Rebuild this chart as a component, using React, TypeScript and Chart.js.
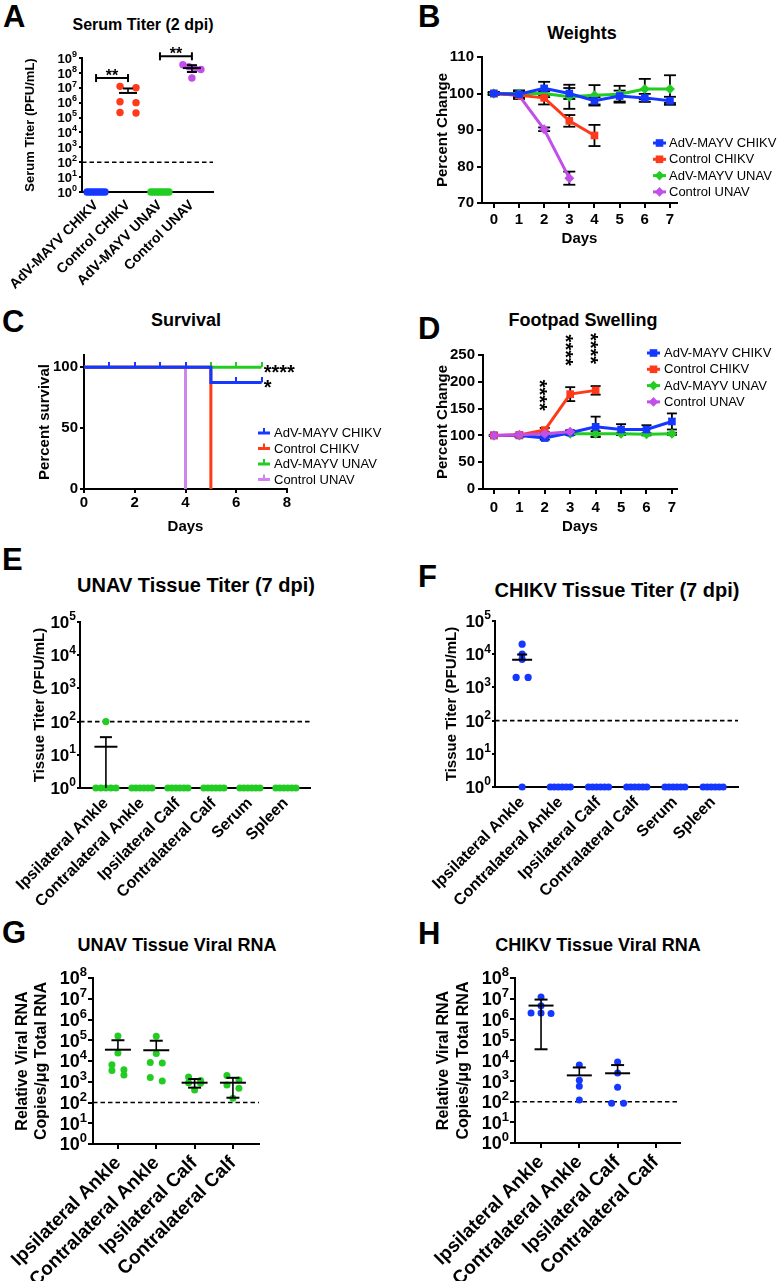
import React, { useEffect, useRef } from 'react';
import { Chart, registerables } from 'chart.js';

Chart.register(...registerables);

const FONT = "'Liberation Sans', Arial, Helvetica, sans-serif";
Chart.defaults.font.family = FONT;
Chart.defaults.color = '#000';

const BLUE = '#1438ff';
const RED = '#ff3a1a';
const GREEN = '#22cc22';
const PURPLE = '#c14fe8';
const LILAC = '#cf85ef';

// ================= DATA =================
const LOD = 100;

// A – Serum titer (2 dpi)
const aCats = ['AdV-MAYV CHIKV', 'Control CHIKV', 'AdV-MAYV UNAV', 'Control UNAV'];
const aExp = [0, 1, 2, 3, 4, 5, 6, 7, 8, 9];
const aAdvChikv = [1, 1, 1, 1, 1, 1, 1, 1];
const aCtrlChikv = [1.25e7, 1.0e7, 1.15e6, 1.0e6, 2.2e5, 2.0e5];
const aAdvUnav = [1, 1, 1, 1, 1, 1, 1, 1];
const aCtrlUnav = [3.5e8, 2.6e8, 1.9e8, 1.7e8, 4.5e7];
const aMean = [null, 4.5e6, null, 2.1e8];
const aHigh = [null, 9.0e6, null, 3.3e8];
const aLow = [null, null, null, 1.15e8];
const aSigFrom = [0, 2];
const aSigTo = [1, 3];
const aSigLevel = [4.5e7, 1.3e9];
const aSigText = ['**', '**'];

// B – Weights
const days = [0, 1, 2, 3, 4, 5, 6, 7];
const bYTicks = [70, 80, 90, 100, 110];
const wAdvChikv = [100, 99.8, 101.4, 100, 98, 99.3, 98.8, 98];
const wAdvChikvSem = [0.3, 1, 1.8, 1.5, 1, 1.5, 1.1, 1.1];
const wCtrlChikv = [100, 99.5, 98.8, 92.5, 88.5];
const wCtrlChikvSem = [0.3, 1, 1.8, 1.6, 2.9];
const wAdvUnav = [100, 100, 100, 99.1, 99.5, 99.8, 101.2, 101.2];
const wAdvUnavSem = [0.3, 0.8, 1, 3.3, 2.8, 2.3, 2.8, 3.8];
const wCtrlUnav = [100, 99.5, 90.2, 76.8];
const wCtrlUnavSem = [0.3, 0.5, 0.5, 1.8];

// C – Survival
const sDays = [0, 1, 2, 3, 4, 5, 6, 7];
const sAdvChikv = [100, 100, 100, 100, 100, 87.5, 87.5, 87.5];
const sCtrlChikv = [100, 100, 100, 100, 100, 0];
const sAdvUnav = [100, 100, 100, 100, 100, 100, 100, 100];
const sCtrlUnav = [100, 100, 100, 100, 0];
const cXTicks = [0, 2, 4, 6, 8];
const cYTicks = [0, 50, 100];
const cStarUnav = '****';
const cStarChikv = '*';

// D – Footpad swelling
const dYTicks = [0, 50, 100, 150, 200, 250];
const fAdvChikv = [100, 100, 95, 105, 116, 111, 111, 126];
const fAdvChikvSem = [1, 2, 3, 4, 19, 10, 8, 15];
const fCtrlChikv = [100, 101, 110, 177, 184];
const fCtrlChikvSem = [1, 2, 4, 13, 8];
const fAdvUnav = [100, 100, 103, 103, 103, 103, 102, 103];
const fAdvUnavSem = [1, 2, 2, 2, 5, 2, 2, 2];
const fCtrlUnav = [100, 101, 103, 107];
const fCtrlUnavSem = [1, 1, 2, 2];
const dStarDays = [2, 3, 4];
const dStarLevel = [175, 259, 262];
const dStarText = ['****', '****', '****'];

// E / F – Tissue titer (7 dpi)
const tCats = ['Ipsilateral Ankle', 'Contralateral Ankle', 'Ipsilateral Calf', 'Contralateral Calf', 'Serum', 'Spleen'];
const tExp = [0, 1, 2, 3, 4, 5];
const eIpsiAnkle = [100, 1, 1, 1, 1, 1];
const eContraAnkle = [1, 1, 1, 1, 1, 1];
const eIpsiCalf = [1, 1, 1, 1, 1, 1];
const eContraCalf = [1, 1, 1, 1, 1, 1];
const eSerum = [1, 1, 1, 1, 1, 1];
const eSpleen = [1, 1, 1, 1, 1, 1];
const eMean = [17.5, null, null, null, null, null];
const eHigh = [34, null, null, null, null, null];
const eLow = [1, null, null, null, null, null];
const fIpsiAnkle = [2.0e4, 1.0e4, 7.0e3, 2.0e3, 2.0e3, 1];
const fContraAnkle = [1, 1, 1, 1, 1, 1];
const fIpsiCalf = [1, 1, 1, 1, 1, 1];
const fContraCalf = [1, 1, 1, 1, 1, 1];
const fSerum = [1, 1, 1, 1, 1, 1];
const fSpleen = [1, 1, 1, 1, 1, 1];
const fMean = [6.8e3, null, null, null, null, null];
const fHigh = [9.8e3, null, null, null, null, null];
const fLow = [null, null, null, null, null, null];

// G / H – Tissue viral RNA
const rCats = ['Ipsilateral Ankle', 'Contralateral Ankle', 'Ipsilateral Calf', 'Contralateral Calf'];
const rExp = [0, 1, 2, 3, 4, 5, 6, 7, 8];
const gIpsiAnkle = [1.6e5, 2.4e4, 6.6e3, 3.8e3, 3.5e3, 2.1e3];
const gContraAnkle = [1.55e5, 2.3e4, 8.5e3, 8.0e3, 1.6e3, 1.1e3];
const gIpsiCalf = [1.7e3, 1.15e3, 900, 850, 400];
const gContraCalf = [2.0e3, 1.2e3, 700, 480, 160];
const gMean = [3.5e4, 3.3e4, 900, 900];
const gHigh = [1.0e5, 9.5e4, 1.35e3, 1.55e3];
const gLow = [null, null, 520, 170];
const hIpsiAnkle = [1.2e7, 4.5e6, 2.0e6, 2.0e6, 1.9e6];
const hContraAnkle = [6.0e3, 1.1e3, 560, 120];
const hIpsiCalf = [8.5e3, 2.5e3, 500, 85, 85];
const hContraCalf: number[] = [];
const hMean = [4.6e6, 1.9e3, 2.4e3, null];
const hHigh = [9.0e6, 4.6e3, 6.0e3, null];
const hLow = [3.5e4, null, null, null];

// ================= HELPERS =================
type Rect = [number, number, number, number];
type Plot = [number, number, number, number];

function frame(cv: Rect, plot: Plot) {
  const [cl, ct, cw, ch] = cv;
  const [L, T, R, B] = plot;
  return { padding: { left: 0, top: T - ct, right: cl + cw - R, bottom: 0 }, yW: L - cl, xH: ct + ch - B };
}
const fitX = (h: number) => (s: any) => {
  s.height = h; s.paddingLeft = 0; s.paddingRight = 0; s.paddingTop = 0; s.paddingBottom = 0;
};
const fitY = (w: number) => (s: any) => {
  s.width = w; s.paddingLeft = 0; s.paddingRight = 0; s.paddingTop = 0; s.paddingBottom = 0;
};

function makeAxis(o: any) {
  return {
    type: o.type,
    min: o.min,
    max: o.max,
    afterBuildTicks: (s: any) => { s.ticks = o.ticks.map((v: number) => ({ value: v })); },
    afterFit: o.fit,
    ticks: {
      callback: o.fmt || ((v: any) => String(v)),
      font: { size: o.size, weight: 'bold' },
      color: '#000',
      padding: o.pad,
      autoSkip: false,
      minRotation: o.rotation || 0,
      maxRotation: o.rotation || 0,
    },
    grid: {
      display: true, drawOnChartArea: false, drawTicks: o.tl > 0, tickLength: o.tl,
      tickWidth: 2, tickColor: '#000', color: '#000', lineWidth: 2,
    },
    border: { display: true, color: '#000', width: 2 },
    title: o.title
      ? { display: true, text: o.title, color: '#000', font: { size: o.titleSize, weight: 'bold', lineHeight: o.titleLH || 1.2 }, padding: o.titlePad }
      : { display: false },
  };
}

function swarm(vals: number[], cat: number, pxPerCat: number, yPix: (v: number) => number, maxSp: number, rowW: number) {
  const order = vals.map((_, i) => i).sort((a, b) => yPix(vals[a]) - yPix(vals[b]));
  const rows: number[][] = [];
  let start = -1e9;
  for (const i of order) {
    const py = yPix(vals[i]);
    if (rows.length && py - start <= 5) rows[rows.length - 1].push(i);
    else { rows.push([i]); start = py; }
  }
  const pts: { x: number; y: number }[] = new Array(vals.length);
  rows.forEach((row) => {
    const n = row.length;
    const sp = n > 1 ? Math.min(maxSp, rowW / (n - 1)) : 0;
    row.forEach((i, k) => { pts[i] = { x: cat + ((k - (n - 1) / 2) * sp) / pxPerCat, y: vals[i] }; });
  });
  return pts;
}

function line(ctx: CanvasRenderingContext2D, x1: number, y1: number, x2: number, y2: number) {
  ctx.beginPath(); ctx.moveTo(x1, y1); ctx.lineTo(x2, y2); ctx.stroke();
}

// "10" with a raised exponent for each log tick
function logLabelPlugin(size: number, tl: number, pad: number) {
  return {
    id: 'logLabels',
    afterDraw(chart: any) {
      const y = chart.scales.y; const ctx: CanvasRenderingContext2D = chart.ctx;
      ctx.save(); ctx.fillStyle = '#000'; ctx.textAlign = 'right'; ctx.textBaseline = 'alphabetic';
      const es = Math.round(size * 0.7);
      y.ticks.forEach((t: any) => {
        const py = y.getPixelForValue(t.value);
        const e = String(Math.round(Math.log10(t.value)));
        const xr = y.right - tl - pad;
        ctx.font = `bold ${es}px ${FONT}`;
        const ew = ctx.measureText(e).width;
        const base = py + 0.358 * size;
        ctx.fillText(e, xr, base - 0.45 * size);
        ctx.font = `bold ${size}px ${FONT}`;
        ctx.fillText('10', xr - ew, base);
      });
      ctx.restore();
    },
  };
}

function summaryPlugin(mean: any[], lo: any[], hi: any[], meanHalf: number, capHalf: number) {
  return {
    id: 'summary',
    afterDatasetsDraw(chart: any) {
      const { ctx } = chart; const x = chart.scales.x; const y = chart.scales.y;
      ctx.save(); ctx.strokeStyle = '#000';
      mean.forEach((m, i) => {
        if (m == null) return;
        const px = x.getPixelForValue(i); const pm = y.getPixelForValue(m);
        ctx.lineWidth = 2;
        line(ctx, px - meanHalf, pm, px + meanHalf, pm);
        if (hi[i] != null && hi[i] > m) {
          const ph = y.getPixelForValue(hi[i]);
          ctx.lineWidth = 1.6; line(ctx, px, pm, px, ph);
          ctx.lineWidth = 2; line(ctx, px - capHalf, ph, px + capHalf, ph);
        }
        if (lo[i] != null && lo[i] < m) {
          const pl = y.getPixelForValue(Math.max(lo[i], y.min));
          ctx.lineWidth = 1.6; line(ctx, px, pm, px, pl);
          if (lo[i] > y.min) { ctx.lineWidth = 2; line(ctx, px - capHalf, pl, px + capHalf, pl); }
        }
      });
      ctx.restore();
    },
  };
}

function errorBarPlugin(capHalf: number) {
  return {
    id: 'errbars',
    beforeDatasetsDraw(chart: any) {
      const { ctx } = chart; const y = chart.scales.y;
      ctx.save(); ctx.strokeStyle = '#000'; ctx.lineWidth = 1.8;
      chart.data.datasets.forEach((ds: any, di: number) => {
        if (!ds.err) return;
        const meta = chart.getDatasetMeta(di);
        meta.data.forEach((el: any, j: number) => {
          const e = ds.err[j]; if (!e) return;
          const v = ds.data[j].y;
          const top = y.getPixelForValue(v + e); const bot = y.getPixelForValue(v - e);
          line(ctx, el.x, top, el.x, bot);
          line(ctx, el.x - capHalf, top, el.x + capHalf, top);
          line(ctx, el.x - capHalf, bot, el.x + capHalf, bot);
        });
      });
      ctx.restore();
    },
  };
}

function legendPlugin(cv: Rect, o: any) {
  return {
    id: 'customLegend',
    afterDraw(chart: any) {
      const ctx: CanvasRenderingContext2D = chart.ctx;
      ctx.save();
      ctx.font = `${o.size}px ${FONT}`; ctx.textBaseline = 'middle'; ctx.textAlign = 'left';
      chart.data.datasets.filter((d: any) => d.label).forEach((d: any, i: number) => {
        const y = o.y0 + i * o.dy - cv[1];
        const x0 = o.x0 - cv[0]; const x1 = o.x1 - cv[0]; const mid = (x0 + x1) / 2;
        ctx.strokeStyle = d.borderColor; ctx.fillStyle = d.borderColor; ctx.lineWidth = 3;
        line(ctx, x0, y, x1, y);
        if (o.tick) {
          ctx.fillRect(mid - 1, y - 5, 2, 5);
        } else if (d.pointStyle === 'rect') {
          ctx.fillRect(mid - 3.8, y - 3.8, 7.6, 7.6);
        } else {
          ctx.beginPath(); ctx.moveTo(mid, y - 4.8); ctx.lineTo(mid + 4.8, y); ctx.lineTo(mid, y + 4.8); ctx.lineTo(mid - 4.8, y); ctx.closePath(); ctx.fill();
        }
        ctx.fillStyle = '#000';
        ctx.fillText(d.label, o.tx - cv[0], y + 0.5);
      });
      ctx.restore();
    },
  };
}

function bracketPlugin() {
  return {
    id: 'brackets',
    afterDraw(chart: any) {
      const { ctx } = chart; const x = chart.scales.x; const y = chart.scales.y;
      ctx.save(); ctx.strokeStyle = '#000'; ctx.fillStyle = '#000'; ctx.lineWidth = 2;
      ctx.font = `bold 16px ${FONT}`; ctx.textAlign = 'center'; ctx.textBaseline = 'alphabetic';
      aSigLevel.forEach((lv, i) => {
        const x1 = x.getPixelForValue(aSigFrom[i]); const x2 = x.getPixelForValue(aSigTo[i]);
        const py = y.getPixelForValue(lv);
        line(ctx, x1, py, x2, py);
        line(ctx, x1, py - 4, x1, py + 4);
        line(ctx, x2, py - 4, x2, py + 4);
        ctx.fillText(aSigText[i], (x1 + x2) / 2, py + 3);
      });
      ctx.restore();
    },
  };
}

function survivalStarsPlugin() {
  return {
    id: 'survStars',
    afterDraw(chart: any) {
      const { ctx } = chart; const x = chart.scales.x; const y = chart.scales.y;
      ctx.save(); ctx.fillStyle = '#000'; ctx.font = `bold 20px ${FONT}`;
      ctx.textAlign = 'left'; ctx.textBaseline = 'alphabetic';
      const lastDay = sDays[sDays.length - 1];
      const px = x.getPixelForValue(lastDay) + 2;
      ctx.fillText(cStarUnav, px, y.getPixelForValue(sAdvUnav[sAdvUnav.length - 1]) + 11.5);
      ctx.fillText(cStarChikv, px, y.getPixelForValue(sAdvChikv[sAdvChikv.length - 1]) + 11.5);
      ctx.restore();
    },
  };
}

function swellingStarsPlugin() {
  return {
    id: 'swellStars',
    afterDraw(chart: any) {
      const { ctx } = chart; const x = chart.scales.x; const y = chart.scales.y;
      ctx.save(); ctx.fillStyle = '#000'; ctx.font = `bold 20px ${FONT}`;
      ctx.textAlign = 'center'; ctx.textBaseline = 'alphabetic';
      dStarDays.forEach((d, i) => {
        ctx.save();
        ctx.translate(x.getPixelForValue(d), y.getPixelForValue(dStarLevel[i]));
        ctx.rotate(Math.PI / 2);
        ctx.fillText(dStarText[i], 0, 11.5);
        ctx.restore();
      });
      ctx.restore();
    },
  };
}

const baseOptions = (padding: any) => ({
  responsive: false,
  animation: false,
  devicePixelRatio: 1,
  events: [],
  layout: { padding },
  plugins: { legend: { display: false }, tooltip: { enabled: false }, title: { display: false } },
});

function dotChart(p: any) {
  const f = frame(p.cv, p.plot);
  const [L, T, R, B] = p.plot;
  const e0 = p.yExp[0]; const e1 = p.yExp[p.yExp.length - 1];
  const pxPerCat = (R - L) / (p.xMax - p.xMin);
  const yPix = (v: number) => B - ((Math.log10(v) - e0) / (e1 - e0)) * (B - T);
  const datasets: any[] = p.groups.map((vals: number[], gi: number) => ({
    data: swarm(vals, gi, pxPerCat, yPix, p.maxSp, p.rowW),
    backgroundColor: p.colors ? p.colors[gi] : p.color, borderWidth: 0, pointRadius: p.r, pointHoverRadius: p.r, clip: false,
  }));
  datasets.push({
    data: [{ x: p.xMin, y: LOD }, { x: p.xMax, y: LOD }], showLine: true,
    borderColor: '#000', borderWidth: 1.6, borderDash: [4.5, 3], pointRadius: 0,
  });
  const lh = p.yTitleSize * (p.yTitleLH || 1.2);
  return {
    type: 'scatter',
    data: { datasets },
    options: {
      ...baseOptions(f.padding),
      scales: {
        x: makeAxis({
          type: 'linear', min: p.xMin, max: p.xMax, ticks: p.cats.map((_: any, i: number) => i),
          fmt: (v: any) => p.cats[Math.round(Number(v))], size: p.xSize, tl: p.xTl, pad: p.xPad, rotation: 45, fit: fitX(f.xH),
        }),
        y: makeAxis({
          type: 'logarithmic', min: Math.pow(10, e0), max: Math.pow(10, e1), ticks: p.yExp.map((e: number) => Math.pow(10, e)),
          fmt: () => '', size: p.ySize, tl: p.yTl, pad: p.yPad, fit: fitY(f.yW),
          title: p.yTitle, titleSize: p.yTitleSize, titleLH: p.yTitleLH,
          titlePad: { top: p.yTitleX - p.cv[0] - lh / 2, bottom: 0 },
        }),
      },
    },
    plugins: [
      summaryPlugin(p.mean, p.lo, p.hi, p.meanHalf, p.capHalf),
      logLabelPlugin(p.ySize, p.yTl, p.yPad),
      ...(p.extra || []),
    ],
  };
}

function lineChart(p: any) {
  const f = frame(p.cv, p.plot);
  const datasets = p.series.map((s: any, i: number) => ({
    label: s.label,
    data: s.ys.map((v: number, j: number) => ({ x: days[j], y: v })),
    err: s.err,
    showLine: true, borderColor: s.color, backgroundColor: s.color, borderWidth: 3,
    pointStyle: s.style, pointRadius: s.style === 'rect' ? 5.4 : 5, pointBorderWidth: 0,
    clip: false, order: s.order != null ? s.order : i,
  }));
  const tLH = 15 * 1.2;
  return {
    type: 'scatter',
    data: { datasets },
    options: {
      ...baseOptions(f.padding),
      scales: {
        x: makeAxis({
          type: 'linear', min: p.xMin, max: p.xMax, ticks: days, size: 15, tl: 5, pad: p.xPad, fit: fitX(f.xH),
          title: 'Days', titleSize: 15, titlePad: { top: 0, bottom: p.cv[1] + p.cv[3] - p.xTitleY - tLH / 2 },
        }),
        y: makeAxis({
          type: 'linear', min: p.yMin, max: p.yMax, ticks: p.yTicks, size: 15, tl: 5, pad: 3, fit: fitY(f.yW),
          title: 'Percent Change', titleSize: 15, titlePad: { top: p.yTitleX - p.cv[0] - tLH / 2, bottom: 0 },
        }),
      },
    },
    plugins: [errorBarPlugin(p.capHalf), legendPlugin(p.cv, { ...p.legend, size: 13 }), ...(p.extra || [])],
  };
}

function censorMark(color: string) {
  const c = document.createElement('canvas');
  c.width = 2; c.height = 10;
  const g = c.getContext('2d') as CanvasRenderingContext2D;
  g.fillStyle = color; g.fillRect(0, 0, 2, 5);
  return c;
}

// ================= PANELS =================
const A_CV: Rect = [0, 40, 262, 262];
const B_CV: Rect = [400, 40, 383, 235];
const C_CV: Rect = [0, 340, 395, 200];
const D_CV: Rect = [400, 330, 383, 210];
const E_CV: Rect = [0, 605, 330, 300];
const F_CV: Rect = [400, 605, 383, 300];
const G_CV: Rect = [0, 960, 300, 321];
const H_CV: Rect = [400, 960, 383, 321];

const makeA = () => dotChart({
  cv: A_CV, plot: [82, 58, 213, 192], cats: aCats,
  groups: [aAdvChikv, aCtrlChikv, aAdvUnav, aCtrlUnav], colors: [BLUE, RED, GREEN, PURPLE],
  yExp: aExp, xMin: -0.44, xMax: 3.66, mean: aMean, hi: aHigh, lo: aLow, meanHalf: 9, capHalf: 5,
  r: 3.7, maxSp: 16, rowW: 18, ySize: 13, yTl: 3, yPad: 2, xSize: 14, xTl: 0, xPad: 5,
  yTitle: 'Serum Titer (PFU/mL)', yTitleSize: 13, yTitleX: 30, extra: [bracketPlugin()],
});

const makeB = () => lineChart({
  cv: B_CV, plot: [482, 57, 677, 203], yMin: 70, yMax: 110, yTicks: bYTicks, xMin: -0.47, xMax: 7.28,
  xPad: 3, yTitleX: 443, xTitleY: 239, capHalf: 6,
  legend: { x0: 653, x1: 666, tx: 669, y0: 143, dy: 16.3 },
  series: [
    { label: 'AdV-MAYV CHIKV', ys: wAdvChikv, err: wAdvChikvSem, color: BLUE, style: 'rect' },
    { label: 'Control CHIKV', ys: wCtrlChikv, err: wCtrlChikvSem, color: RED, style: 'rect' },
    { label: 'AdV-MAYV UNAV', ys: wAdvUnav, err: wAdvUnavSem, color: GREEN, style: 'rectRot' },
    { label: 'Control UNAV', ys: wCtrlUnav, err: wCtrlUnavSem, color: PURPLE, style: 'rectRot' },
  ],
});

const makeC = () => {
  const f = frame(C_CV, [84, 355, 287, 489]);
  const series = [
    { label: 'AdV-MAYV CHIKV', ys: sAdvChikv, color: BLUE },
    { label: 'Control CHIKV', ys: sCtrlChikv, color: RED },
    { label: 'AdV-MAYV UNAV', ys: sAdvUnav, color: GREEN },
    { label: 'Control UNAV', ys: sCtrlUnav, color: LILAC },
  ];
  const datasets = series.map((s) => {
    const mark = censorMark(s.color);
    return {
      label: s.label,
      data: s.ys.map((v, j) => ({ x: sDays[j], y: v })),
      showLine: true, stepped: true, borderColor: s.color, backgroundColor: s.color, borderWidth: 3,
      pointStyle: mark,
      pointRadius: (c: any) => (c.dataIndex > 0 && s.ys[c.dataIndex] === s.ys[c.dataIndex - 1] ? 4 : 0),
      clip: false,
    };
  });
  const tLH = 15 * 1.2;
  return {
    type: 'scatter',
    data: { datasets },
    options: {
      ...baseOptions(f.padding),
      scales: {
        x: makeAxis({
          type: 'linear', min: 0, max: 8, ticks: cXTicks, size: 15, tl: 4, pad: 1, fit: fitX(f.xH),
          title: 'Days', titleSize: 15, titlePad: { top: 0, bottom: C_CV[1] + C_CV[3] - 527 - tLH / 2 },
        }),
        y: makeAxis({
          type: 'linear', min: 0, max: 110, ticks: cYTicks, size: 15, tl: 4, pad: 2, fit: fitY(f.yW),
          title: 'Percent survival', titleSize: 15, titlePad: { top: 45 - C_CV[0] - tLH / 2, bottom: 0 },
        }),
      },
    },
    plugins: [legendPlugin(C_CV, { x0: 258, x1: 270, tx: 274, y0: 433, dy: 15.5, size: 13, tick: true }), survivalStarsPlugin()],
  };
};

const makeD = () => lineChart({
  cv: D_CV, plot: [483, 355, 677, 489], yMin: 0, yMax: 250, yTicks: dYTicks, xMin: -0.43, xMax: 7.2,
  xPad: 5, yTitleX: 443, xTitleY: 527, capHalf: 5,
  legend: { x0: 647, x1: 660, tx: 664, y0: 353, dy: 16.3 },
  series: [
    { label: 'AdV-MAYV CHIKV', ys: fAdvChikv, err: fAdvChikvSem, color: BLUE, style: 'rect', order: 2 },
    { label: 'Control CHIKV', ys: fCtrlChikv, err: fCtrlChikvSem, color: RED, style: 'rect', order: 1 },
    { label: 'AdV-MAYV UNAV', ys: fAdvUnav, err: fAdvUnavSem, color: GREEN, style: 'rectRot', order: 3 },
    { label: 'Control UNAV', ys: fCtrlUnav, err: fCtrlUnavSem, color: PURPLE, style: 'rectRot', order: 0 },
  ],
  extra: [swellingStarsPlugin()],
});

const makeE = () => dotChart({
  cv: E_CV, plot: [80, 622, 310, 788], cats: tCats,
  groups: [eIpsiAnkle, eContraAnkle, eIpsiCalf, eContraCalf, eSerum, eSpleen], color: GREEN,
  yExp: tExp, xMin: -0.72, xMax: 5.67, mean: eMean, hi: eHigh, lo: eLow, meanHalf: 11.5, capHalf: 6,
  r: 3.6, maxSp: 12, rowW: 20, ySize: 17, yTl: 3, yPad: 1, xSize: 16, xTl: 0, xPad: 6,
  yTitle: 'Tissue Titer (PFU/mL)', yTitleSize: 15, yTitleX: 40,
});

const makeF = () => dotChart({
  cv: F_CV, plot: [495, 621, 738, 787], cats: tCats,
  groups: [fIpsiAnkle, fContraAnkle, fIpsiCalf, fContraCalf, fSerum, fSpleen], color: BLUE,
  yExp: tExp, xMin: -0.71, xMax: 5.65, mean: fMean, hi: fHigh, lo: fLow, meanHalf: 10, capHalf: 5,
  r: 3.6, maxSp: 12, rowW: 20, ySize: 17, yTl: 3, yPad: 1, xSize: 16, xTl: 0, xPad: 6,
  yTitle: 'Tissue Titer (PFU/mL)', yTitleSize: 15, yTitleX: 452,
});

const makeG = () => dotChart({
  cv: G_CV, plot: [93, 978, 259, 1144], cats: rCats,
  groups: [gIpsiAnkle, gContraAnkle, gIpsiCalf, gContraCalf], color: GREEN,
  yExp: rExp, xMin: -0.65, xMax: 3.68, mean: gMean, hi: gHigh, lo: gLow, meanHalf: 13, capHalf: 6.5,
  r: 3.5, maxSp: 12, rowW: 20, ySize: 18, yTl: 5, yPad: 1, xSize: 19, xTl: 5, xPad: 3,
  yTitle: ['Relative Viral RNA', 'Copies/μg Total RNA'], yTitleSize: 16, yTitleLH: 1.19, yTitleX: 22.5,
});

const makeH = () => dotChart({
  cv: H_CV, plot: [515, 978, 680, 1143], cats: rCats,
  groups: [hIpsiAnkle, hContraAnkle, hIpsiCalf, hContraCalf], color: BLUE,
  yExp: rExp, xMin: -0.68, xMax: 3.63, mean: hMean, hi: hHigh, lo: hLow, meanHalf: 12.5, capHalf: 6.5,
  r: 3.5, maxSp: 12, rowW: 20, ySize: 18, yTl: 5, yPad: 1, xSize: 19, xTl: 5, xPad: 3,
  yTitle: ['Relative Viral RNA', 'Copies/μg Total RNA'], yTitleSize: 16, yTitleLH: 1.25, yTitleX: 443.5,
});

function Panel({ cv, make }: { cv: Rect; make: () => any }) {
  const ref = useRef<HTMLCanvasElement>(null);
  useEffect(() => {
    const chart = new Chart(ref.current as HTMLCanvasElement, make());
    return () => chart.destroy();
  }, []);
  return (
    <canvas
      ref={ref}
      width={cv[2]}
      height={cv[3]}
      style={{ position: 'absolute', left: cv[0], top: cv[1], width: cv[2], height: cv[3] }}
    />
  );
}

const LETTERS: [string, number, number][] = [
  ['A', 3, 5], ['B', 418, 5], ['C', 2, 310], ['D', 418, 317],
  ['E', 2, 548], ['F', 418, 565], ['G', 2, 921], ['H', 418, 922],
];
const TITLES: [string, number, number, number][] = [
  ['Serum Titer (2 dpi)', 143, 24.5, 16],
  ['Weights', 582, 32.5, 18],
  ['Survival', 186, 319.5, 18],
  ['Footpad Swelling', 583, 319.5, 18],
  ['UNAV Tissue Titer (7 dpi)', 196, 585, 20],
  ['CHIKV Tissue Titer (7 dpi)', 617, 590, 20],
  ['UNAV Tissue Viral RNA', 177, 945, 18],
  ['CHIKV Tissue Viral RNA', 598, 945, 18],
];

export default function App() {
  const LS = 31;
  return (
    <div style={{ position: 'absolute', left: 0, top: 0, width: 783, height: 1281, background: '#fff', overflow: 'hidden', fontFamily: FONT }}>
      {LETTERS.map(([t, x, y]) => (
        <div key={t} style={{ position: 'absolute', left: x, top: y - 0.1305 * LS, fontSize: LS, fontWeight: 'bold', lineHeight: 1, color: '#000' }}>{t}</div>
      ))}
      {TITLES.map(([t, cx, cy, s]) => (
        <div key={t} style={{ position: 'absolute', left: cx, top: cy - 0.4885 * s, fontSize: s, fontWeight: 'bold', lineHeight: 1, whiteSpace: 'nowrap', transform: 'translateX(-50%)', color: '#000' }}>{t}</div>
      ))}
      <Panel cv={A_CV} make={makeA} />
      <Panel cv={B_CV} make={makeB} />
      <Panel cv={C_CV} make={makeC} />
      <Panel cv={D_CV} make={makeD} />
      <Panel cv={E_CV} make={makeE} />
      <Panel cv={F_CV} make={makeF} />
      <Panel cv={G_CV} make={makeG} />
      <Panel cv={H_CV} make={makeH} />
    </div>
  );
}
